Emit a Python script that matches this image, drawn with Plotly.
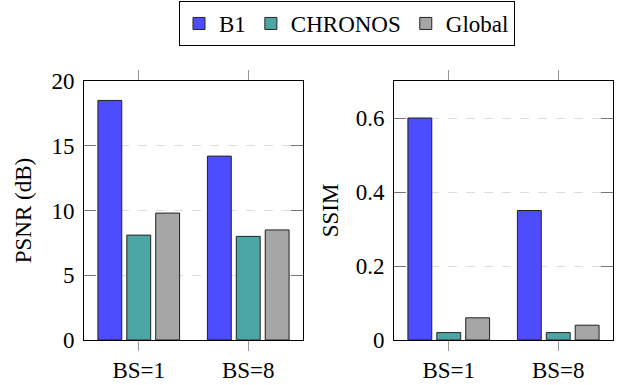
import plotly.graph_objects as go

categories = ["BS=1", "BS=8"]
series_names = ["B1", "CHRONOS", "Global"]
psnr_values = {
    "B1": [18.5, 14.2],
    "CHRONOS": [8.1, 8.0],
    "Global": [9.8, 8.5],
}
ssim_values = {
    "B1": [0.60, 0.35],
    "CHRONOS": [0.02, 0.02],
    "Global": [0.06, 0.04],
}
psnr_ticks = [0, 5, 10, 15, 20]
ssim_ticks = [0, 0.2, 0.4, 0.6]
ssim_tick_labels = ["0", "0.2", "0.4", "0.6"]

colors = {"B1": "#4d4dff", "CHRONOS": "#4da6a6", "Global": "#a6a6a6"}
FONT = "Liberation Serif"
FS = 23

W, H = 622, 385
ML, MR, MT, MB = 84, 9, 81, 45
PW = W - ML - MR
bar_w = 0.218
pitch = 0.264

fig = go.Figure()
for i, name in enumerate(series_names):
    off = -bar_w / 2 + (i - 1) * pitch
    fig.add_trace(go.Bar(
        x=categories, y=psnr_values[name], name=name,
        marker=dict(color=colors[name], line=dict(color="#222222", width=1)),
        width=bar_w, offset=off, xaxis="x", yaxis="y", legendgroup=name,
    ))
    fig.add_trace(go.Bar(
        x=categories, y=ssim_values[name], name=name,
        marker=dict(color=colors[name], line=dict(color="#222222", width=1)),
        width=bar_w, offset=off, xaxis="x2", yaxis="y2", legendgroup=name,
        showlegend=False,
    ))

xaxis_common = dict(
    type="category", range=[-0.5, 1.5], showline=True, linecolor="black",
    linewidth=1, mirror="ticks", ticks="outside", ticklen=10, tickcolor="#999999",
    tickwidth=1, showgrid=False, zeroline=False, automargin=False,
    ticklabelstandoff=-1,
    tickfont=dict(family=FONT, size=FS, color="black"),
)
yaxis_common = dict(
    showline=True, linecolor="black", linewidth=1, mirror="ticks",
    ticks="inside", ticklen=12, tickcolor="#777777", tickwidth=1,
    showgrid=True, gridcolor="#dddddd", griddash="dash", gridwidth=1,
    zeroline=False, automargin=False, ticklabelstandoff=4,
    tickfont=dict(family=FONT, size=FS, color="black"),
)

fig.update_layout(
    width=W, height=H,
    margin=dict(l=ML, r=MR, t=MT, b=MB, autoexpand=False),
    plot_bgcolor="white", paper_bgcolor="white",
    font=dict(family=FONT, size=FS, color="black"),
    barmode="group",
    showlegend=True,
    legend=dict(
        orientation="h", xref="container", yref="container",
        x=347 / W, xanchor="center", y=1 - 1 / H, yanchor="top",
        bordercolor="black", borderwidth=1, bgcolor="white",
        font=dict(family=FONT, size=FS, color="black"),
        tracegroupgap=0,
    ),
    xaxis=dict(domain=[0, 219 / PW], anchor="y", **xaxis_common),
    yaxis=dict(domain=[0, 1], anchor="x", range=[0, 20], tickvals=psnr_ticks,
               title=dict(text="PSNR (dB)", font=dict(family=FONT, size=FS), standoff=13),
               **yaxis_common),
    xaxis2=dict(domain=[(394 - ML) / PW, 1], anchor="y2", **xaxis_common),
    yaxis2=dict(domain=[0, 1], anchor="x2", range=[0, 0.7], tickvals=ssim_ticks,
                ticktext=ssim_tick_labels,
                title=dict(text="SSIM", font=dict(family=FONT, size=FS), standoff=10),
                **yaxis_common),
)

fig.write_html("out.html", config={"displayModeBar": False},
               post_script="document.body.style.margin='0';")
